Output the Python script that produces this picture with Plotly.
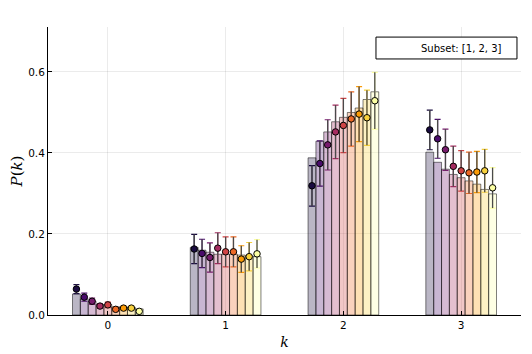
import plotly.graph_objects as go

K_VALUES = [0, 1, 2, 3]

# bar heights, one list per k, 9 series each
BARS_K0 = [0.052, 0.040, 0.034, 0.026, 0.026, 0.020, 0.020, 0.019, 0.015]
BARS_K1 = [0.167, 0.160, 0.155, 0.150, 0.150, 0.150, 0.148, 0.146, 0.144]
BARS_K2 = [0.388, 0.429, 0.452, 0.477, 0.488, 0.500, 0.511, 0.532, 0.551]
BARS_K3 = [0.402, 0.377, 0.360, 0.347, 0.339, 0.331, 0.323, 0.310, 0.299]

# point estimates with error bars
MEAN_K0 = [0.064, 0.044, 0.034, 0.022, 0.025, 0.014, 0.017, 0.017, 0.009]
MEAN_K1 = [0.163, 0.152, 0.142, 0.165, 0.156, 0.156, 0.138, 0.144, 0.151]
MEAN_K2 = [0.319, 0.374, 0.420, 0.452, 0.468, 0.484, 0.496, 0.487, 0.529]
MEAN_K3 = [0.457, 0.435, 0.408, 0.367, 0.356, 0.351, 0.353, 0.356, 0.314]

ERR_K0 = [0.011, 0.010, 0.008, 0.006, 0.007, 0.005, 0.005, 0.005, 0.004]
ERR_K1 = [0.036, 0.035, 0.036, 0.038, 0.037, 0.037, 0.033, 0.035, 0.035]
ERR_K2 = [0.050, 0.056, 0.062, 0.066, 0.067, 0.067, 0.068, 0.068, 0.070]
ERR_K3 = [0.049, 0.048, 0.051, 0.050, 0.050, 0.051, 0.051, 0.053, 0.050]

# inferno, sampled at i/9 for i = 1..9
COLORS = ["#1a0c40", "#4a0c6b", "#781c6d", "#a52c60", "#cf4446",
          "#ed6925", "#fb9b06", "#f7d13d", "#fcffa4"]

LEGEND_TEXT = "Subset: [1, 2, 3]"


def rgba(hx, a):
    h = hx.lstrip("#")
    r, g, b = int(h[0:2], 16), int(h[2:4], 16), int(h[4:6], 16)
    return f"rgba({r},{g},{b},{a})"


bars = [BARS_K0, BARS_K1, BARS_K2, BARS_K3]
means = [MEAN_K0, MEAN_K1, MEAN_K2, MEAN_K3]
errs = [ERR_K0, ERR_K1, ERR_K2, ERR_K3]

n = len(COLORS)
w = 0.6 / n

fig = go.Figure()

for i, col in enumerate(COLORS):
    xs = [k + (i - (n - 1) / 2) * w for k in K_VALUES]
    fig.add_trace(go.Bar(
        x=xs, y=[b[i] for b in bars], width=w,
        marker=dict(color=rgba(col, 0.3),
                    line=dict(color="rgba(0,0,0,0.5)", width=1)),
        showlegend=False, hoverinfo="skip",
    ))

for i, col in enumerate(COLORS):
    xs = [k + (i - (n - 1) / 2) * w for k in K_VALUES]
    ys = [m[i] for m in means]
    es = [e[i] for e in errs]
    # coloured caps
    fig.add_trace(go.Scatter(
        x=xs, y=ys, mode="markers", marker=dict(size=0.1, color=col),
        error_y=dict(type="data", array=es, color=col, thickness=1.2, width=3),
        showlegend=False, hoverinfo="skip",
    ))
    # dark stem + marker
    fig.add_trace(go.Scatter(
        x=xs, y=ys, mode="markers",
        marker=dict(size=6.5, color=col, line=dict(color="black", width=1)),
        error_y=dict(type="data", array=es, color="#4a4a4a",
                     thickness=1.3, width=0),
        showlegend=False,
    ))

# legend-style box in the top right corner
fig.add_shape(
    type="rect", xref="paper", yref="paper",
    x0=0.6934, x1=0.9915, y0=0.889, y1=0.965,
    line=dict(color="black", width=1), fillcolor="white", layer="above",
)
fig.add_annotation(
    xref="paper", yref="paper", x=0.964, y=0.927,
    xanchor="right", yanchor="middle",
    text=LEGEND_TEXT, showarrow=False,
    font=dict(family="DejaVu Sans", size=10, color="black"),
)

axis_common = dict(
    showgrid=True, gridcolor="rgba(0,0,0,0.08)", gridwidth=1,
    showline=True, linecolor="black", linewidth=1,
    ticks="inside", ticklen=4, tickcolor="black",
    zeroline=False, mirror=False, automargin=False,
    tickfont=dict(family="DejaVu Sans", size=10.5, color="black"),
)

fig.update_xaxes(
    **axis_common, range=[-0.508, 3.508],
    tickvals=K_VALUES, ticktext=[str(k) for k in K_VALUES],
    title=dict(text="<i>k</i>", font=dict(family="DejaVu Serif", size=14, color="black"),
               standoff=7),
)
fig.update_yaxes(
    **axis_common, range=[0, 0.711],
    tickvals=[0, 0.2, 0.4, 0.6], ticktext=["0.0", "0.2", "0.4", "0.6"],
    title=dict(text="<i>P</i>(<i>k</i>)", font=dict(family="DejaVu Serif", size=15, color="black"),
               standoff=11),
)

# page body adds an 8px margin, so the figure is a bit smaller than the window
fig.update_layout(
    width=524, height=346,
    margin=dict(l=40, r=11, t=19, b=39),
    plot_bgcolor="white", paper_bgcolor="white",
    barmode="overlay", showlegend=False,
)

fig.write_html("out.html")
